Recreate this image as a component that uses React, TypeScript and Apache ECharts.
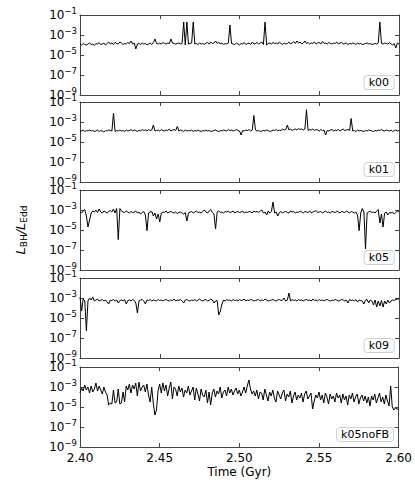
import React, { useEffect, useRef } from "react";
import * as echarts from "echarts";

// Time sampling (Gyr)
const T_START = 2.4;
const T_STEP = 0.001;

// Panel labels
const runNames = ["k00", "k01", "k05", "k09", "k05noFB"];

// log10(L_BH / L_Edd), one value per 0.001 Gyr
const k00 = [
  -3.9,-4.0,-3.85,-3.95,-4.0,-3.9,-3.8,-3.95,-3.9,-4.05,
  -3.85,-3.9,-3.75,-3.95,-3.9,-3.8,-4.0,-3.85,-3.7,-3.9,
  -3.8,-3.95,-3.75,-3.85,-3.9,-3.7,-3.8,-3.95,-3.85,-3.9,
  -3.75,-3.85,-3.6,-3.9,-3.8,-4.4,-3.9,-3.85,-3.95,-3.8,
  -3.9,-3.85,-4.0,-3.9,-3.8,-3.95,-3.75,-3.4,-3.85,-3.9,
  -3.8,-3.9,-3.75,-3.85,-3.9,-3.8,-3.85,-3.4,-3.8,-3.85,
  -3.9,-3.85,-3.8,-3.9,-3.85,-1.7,-4.0,-1.7,-3.9,-3.85,
  -3.8,-1.7,-3.9,-3.85,-3.95,-3.8,-3.9,-3.85,-3.95,-3.8,
  -3.75,-3.9,-3.7,-3.85,-3.8,-3.6,-3.85,-3.7,-3.9,-3.8,
  -3.95,-3.85,-3.9,-3.8,-2.0,-3.85,-3.9,-3.95,-3.8,-3.9,
  -4.0,-3.85,-3.9,-3.75,-3.95,-3.85,-3.8,-3.95,-3.7,-3.9,
  -3.85,-3.75,-3.9,-3.8,-3.7,-3.95,-1.7,-4.0,-3.85,-3.8,
  -3.9,-3.75,-3.85,-3.8,-3.9,-3.7,-3.85,-3.95,-3.8,-3.9,
  -3.85,-3.7,-3.9,-3.8,-3.65,-3.85,-3.6,-3.8,-3.7,-3.9,
  -3.8,-3.6,-3.85,-3.75,-3.9,-3.8,-3.85,-3.7,-3.9,-3.8,
  -3.75,-3.9,-3.65,-3.85,-3.8,-3.9,-3.75,-3.85,-3.9,-3.8,
  -3.85,-3.7,-3.9,-3.8,-3.75,-3.9,-3.85,-3.8,-3.95,-3.85,
  -3.9,-3.8,-3.85,-3.95,-3.8,-3.9,-3.85,-3.95,-3.9,-3.85,
  -3.8,-3.9,-3.85,-3.95,-3.9,-3.85,-3.9,-3.8,-1.7,-3.85,
  -3.9,-3.8,-3.85,-3.9,-3.75,-3.9,-4.0,-3.85,-4.3,-3.8,
  -3.9
];

const k01 = [
  -3.85,-3.9,-3.8,-3.95,-3.85,-3.9,-3.8,-3.9,-3.85,-3.95,
  -3.9,-3.8,-3.95,-3.85,-3.9,-4.0,-3.85,-3.9,-3.8,-3.85,
  -3.9,-2.1,-3.95,-3.85,-3.9,-3.8,-3.9,-3.85,-3.95,-3.8,
  -3.9,-3.85,-3.75,-3.9,-3.8,-3.85,-3.95,-3.8,-3.9,-3.75,
  -3.85,-3.8,-3.9,-3.75,-3.85,-3.8,-3.3,-3.9,-3.85,-3.8,
  -3.9,-3.75,-3.85,-3.9,-3.8,-3.85,-3.7,-3.9,-3.8,-3.75,
  -3.85,-3.45,-3.9,-3.8,-3.85,-3.95,-3.8,-3.9,-3.85,-3.9,
  -3.8,-3.95,-3.85,-3.9,-3.8,-3.9,-3.95,-3.85,-3.9,-3.8,
  -3.9,-3.85,-3.95,-3.9,-3.85,-3.8,-3.9,-3.95,-3.85,-3.9,
  -3.8,-3.85,-3.9,-3.75,-3.85,-3.8,-3.9,-3.85,-3.75,-3.85,
  -3.9,-4.3,-3.85,-3.9,-3.8,-3.85,-3.75,-3.9,-3.8,-2.35,
  -3.8,-3.9,-3.85,-3.95,-3.9,-3.85,-3.9,-3.8,-3.85,-3.95,
  -3.9,-3.8,-3.85,-3.75,-3.9,-3.8,-3.85,-3.7,-3.8,-3.75,
  -3.3,-3.8,-3.7,-3.85,-3.75,-3.7,-3.8,-3.65,-3.75,-3.7,
  -3.8,-3.7,-1.77,-3.85,-3.75,-3.8,-3.7,-3.85,-3.75,-3.8,
  -3.9,-3.75,-3.85,-3.8,-4.3,-3.85,-3.9,-3.8,-3.75,-3.9,
  -3.8,-3.85,-3.75,-3.9,-3.8,-3.7,-3.85,-3.8,-3.75,-3.85,
  -2.65,-3.9,-3.85,-3.95,-3.8,-3.9,-3.85,-3.9,-3.95,-3.85,
  -3.9,-3.8,-3.85,-3.9,-3.95,-3.85,-3.9,-3.8,-3.85,-3.75,
  -3.85,-3.9,-3.8,-3.85,-3.9,-3.8,-3.95,-3.85,-3.8,-3.9,
  -3.85
];

const k05 = [
  -3.2,-3.3,-3.1,-2.95,-3.6,-4.7,-4.0,-3.3,-3.1,-3.2,
  -3.0,-3.25,-2.9,-3.2,-3.3,-3.1,-3.2,-3.3,-3.15,-3.05,
  -3.2,-2.9,-3.3,-2.85,-5.96,-2.85,-3.1,-3.2,-3.25,-3.1,
  -3.2,-3.3,-3.15,-3.25,-3.2,-3.1,-3.3,-3.2,-3.4,-3.25,
  -3.15,-3.5,-5.07,-3.3,-3.2,-3.15,-3.6,-3.3,-3.9,-3.4,
  -4.2,-3.3,-3.2,-3.25,-3.1,-3.3,-3.2,-3.15,-3.25,-3.3,
  -3.2,-3.35,-3.25,-3.2,-3.3,-3.4,-3.25,-4.1,-3.3,-3.2,
  -3.15,-3.3,-3.2,-3.1,-3.25,-3.2,-3.3,-3.15,-3.0,-3.2,
  -3.3,-3.1,-2.95,-3.25,-3.4,-4.9,-3.2,-3.1,-3.25,-3.2,
  -3.3,-3.15,-3.2,-3.1,-3.25,-3.2,-3.1,-3.3,-3.2,-3.15,
  -3.25,-3.2,-3.1,-3.3,-3.2,-3.25,-3.15,-3.2,-3.3,-3.1,
  -3.2,-3.15,-3.25,-3.1,-3.0,-3.3,-3.2,-3.5,-3.1,-3.3,
  -3.15,-2.2,-3.3,-3.2,-3.6,-3.25,-3.15,-3.3,-3.2,-3.15,
  -3.25,-3.3,-3.1,-3.2,-3.15,-3.3,-3.2,-3.25,-3.1,-3.2,
  -3.3,-3.15,-3.2,-3.25,-3.1,-3.3,-3.2,-3.15,-3.05,-3.25,
  -3.2,-3.15,-3.3,-3.2,-3.1,-3.25,-3.2,-3.3,-3.15,-3.2,
  -3.25,-3.1,-3.2,-3.3,-3.15,-3.2,-3.25,-3.1,-3.2,-3.3,
  -3.15,-3.2,-3.3,-3.2,-3.5,-5.07,-3.3,-2.85,-3.2,-6.9,
  -3.3,-3.2,-3.1,-3.25,-3.2,-3.3,-3.1,-2.95,-4.3,-3.4,
  -4.7,-3.3,-3.2,-3.5,-3.25,-3.3,-3.2,-3.4,-3.25,-3.1,
  -3.2
];

const k09 = [
  -2.9,-4.3,-3.1,-3.3,-6.27,-3.3,-3.0,-3.2,-2.9,-3.3,
  -3.2,-3.1,-3.3,-3.25,-3.15,-3.3,-3.2,-3.4,-3.6,-3.2,
  -3.25,-3.15,-3.3,-3.2,-3.5,-3.25,-3.2,-3.3,-3.15,-3.6,
  -3.25,-3.2,-3.3,-3.15,-3.25,-3.5,-4.5,-3.3,-3.2,-3.15,
  -3.3,-3.6,-3.2,-3.25,-3.15,-3.3,-3.2,-3.25,-3.3,-3.15,
  -3.25,-3.2,-3.3,-3.2,-3.15,-3.25,-3.3,-3.2,-3.25,-3.1,
  -3.3,-3.2,-3.25,-3.15,-3.3,-3.5,-3.2,-3.15,-3.25,-3.3,
  -3.2,-3.25,-3.15,-3.3,-3.2,-3.1,-3.25,-3.3,-3.2,-3.15,
  -3.3,-3.25,-3.1,-3.2,-3.5,-3.3,-3.25,-4.7,-4.3,-3.6,
  -3.2,-3.3,-3.15,-3.25,-3.2,-3.3,-3.15,-3.25,-3.2,-3.3,
  -3.15,-3.25,-3.2,-3.1,-3.3,-3.2,-3.25,-3.15,-3.2,-3.3,
  -3.25,-3.2,-3.15,-3.3,-3.2,-3.25,-3.1,-3.2,-3.3,-3.25,
  -3.2,-3.15,-3.25,-3.3,-3.2,-3.15,-3.25,-3.2,-3.0,-3.3,
  -3.2,-2.5,-3.3,-3.15,-3.25,-3.2,-3.3,-3.15,-3.25,-3.2,
  -3.3,-3.2,-3.15,-3.25,-3.2,-3.3,-3.1,-3.25,-3.2,-3.3,
  -3.15,-3.25,-3.2,-3.3,-3.2,-3.15,-3.25,-3.3,-3.2,-3.25,
  -3.15,-3.2,-3.3,-3.25,-3.15,-3.2,-3.3,-3.2,-3.5,-3.15,
  -3.25,-3.2,-3.3,-3.15,-3.4,-3.2,-3.25,-3.3,-3.6,-3.2,
  -3.15,-3.5,-3.2,-3.3,-3.7,-3.2,-3.9,-3.3,-3.8,-3.25,
  -3.9,-3.3,-3.6,-3.2,-3.5,-3.3,-3.2,-3.25,-3.15,-3.1,
  -3.1
];

const k05noFB = [
  -3.6,-3.1,-3.4,-2.8,-3.3,-3.0,-3.6,-2.9,-3.5,-3.2,
  -2.6,-3.4,-2.9,-3.3,-3.7,-3.0,-3.5,-3.8,-4.8,-4.6,
  -4.7,-3.3,-4.6,-4.5,-3.2,-4.7,-4.6,-3.5,-4.5,-2.9,
  -3.3,-2.7,-3.6,-2.8,-3.2,-2.6,-3.9,-2.5,-3.4,-3.0,
  -2.8,-3.5,-2.7,-3.8,-4.5,-3.0,-4.6,-5.8,-5.3,-3.4,
  -2.7,-3.6,-2.6,-3.4,-2.8,-3.9,-3.1,-2.5,-4.2,-3.0,
  -3.2,-3.9,-2.9,-3.5,-3.1,-4.0,-3.3,-3.6,-2.9,-3.8,
  -3.4,-3.0,-4.3,-3.1,-3.7,-4.4,-3.2,-3.8,-4.0,-3.3,
  -4.6,-3.5,-4.8,-3.6,-3.2,-4.0,-3.4,-3.7,-3.0,-4.1,
  -3.5,-3.3,-3.9,-3.0,-3.6,-3.2,-3.8,-3.4,-3.1,-3.7,
  -3.3,-3.9,-3.5,-3.0,-3.6,-2.9,-2.3,-3.2,-3.7,-3.4,
  -3.9,-3.3,-4.2,-3.5,-3.6,-4.3,-3.2,-3.8,-4.4,-3.5,
  -3.9,-3.3,-4.1,-4.5,-3.4,-3.8,-4.2,-3.6,-3.3,-4.4,
  -3.7,-4.0,-3.4,-4.6,-3.9,-3.5,-4.3,-3.8,-4.1,-3.6,
  -4.5,-3.7,-3.4,-4.2,-3.9,-3.6,-5.2,-4.4,-3.8,-4.1,
  -3.5,-4.3,-3.8,-4.6,-3.6,-4.0,-4.7,-3.7,-4.2,-3.9,
  -4.5,-3.6,-4.1,-3.8,-4.6,-3.7,-4.3,-3.9,-4.8,-3.8,
  -4.2,-3.6,-4.5,-4.0,-3.7,-4.7,-4.1,-3.8,-4.4,-3.9,
  -4.6,-4.0,-4.9,-3.9,-4.3,-3.7,-4.6,-4.1,-3.6,-4.5,
  -4.0,-4.7,-3.8,-4.4,-4.9,-2.9,-5.0,-5.3,-5.1,-5.2,
  -5.2
];

const allRuns = [k00, k01, k05, k09, k05noFB];

// Axis tick definitions
const X_MIN = 2.4;
const X_MAX = 2.6;
const X_INTERVAL = 0.05;
const Y_MIN = 1e-9;
const Y_MAX = 1e-1;
const yTickValues = [1e-9, 1e-7, 1e-5, 1e-3, 1e-1];

const FONT = "DejaVu Sans";
const FRAME = "#444";
const GRID_LEFT = 80;
const GRID_WIDTH = 319;
const GRID_TOPS = [15, 102, 190, 278, 367];
const GRID_HEIGHT = 80;

const yLabel = (v: number) => {
  const e = Math.round(Math.log10(v));
  return `{b|10}{s|${e < 0 ? "\u2212" : ""}${Math.abs(e)}}`;
};

export default function App() {
  const ref = useRef<HTMLDivElement>(null);
  useEffect(() => {
    if (!ref.current) return;
    const chart = echarts.init(ref.current, null, { renderer: "svg" });
    const grids: any[] = [];
    const xAxes: any[] = [];
    const yAxes: any[] = [];
    const series: any[] = [];
    const titles: any[] = [];
    const axisLine = { show: true, onZero: false, lineStyle: { color: FRAME, width: 1 } };
    const tick = { show: true, inside: true, length: 4, lineStyle: { color: FRAME, width: 1 } };
    const yTick = { ...tick, customValues: yTickValues };

    allRuns.forEach((run, i) => {
      grids.push({ left: GRID_LEFT, width: GRID_WIDTH, top: GRID_TOPS[i], height: GRID_HEIGHT });
      const last = i === allRuns.length - 1;
      xAxes.push({
        gridIndex: i, type: "value", min: X_MIN, max: X_MAX, interval: X_INTERVAL, position: "bottom",
        axisLine, axisTick: tick, splitLine: { show: false },
        axisLabel: { show: last, color: "#000", fontFamily: FONT, fontSize: 12, margin: 5, formatter: (v: number) => v.toFixed(2) },
        name: last ? "Time (Gyr)" : "", nameLocation: "middle", nameGap: 19,
        nameTextStyle: { color: "#000", fontFamily: FONT, fontSize: 12 },
      });
      xAxes.push({
        gridIndex: i, type: "value", min: X_MIN, max: X_MAX, interval: X_INTERVAL, position: "top",
        axisLine, axisTick: tick, splitLine: { show: false }, axisLabel: { show: false },
      });
      yAxes.push({
        gridIndex: i, type: "log", logBase: 10, min: Y_MIN, max: Y_MAX, position: "left",
        axisLine, axisTick: yTick, splitLine: { show: false }, minorTick: { show: false },
        axisLabel: {
          show: true, margin: 3, formatter: yLabel, customValues: yTickValues,
          rich: {
            b: { fontFamily: FONT, fontSize: 12, color: "#000" },
            s: { fontFamily: FONT, fontSize: 8.5, color: "#000", padding: [0, 0, 8, 0] },
          },
        },
        name: i === 2 ? "{i|L}{sub|BH}{i|/L}{sub|Edd}" : "",
        nameLocation: "middle", nameRotate: 90, nameGap: 52,
        nameTextStyle: {
          rich: {
            i: { fontFamily: FONT, fontSize: 13, fontStyle: "italic", color: "#000" },
            sub: { fontFamily: FONT, fontSize: 9, color: "#000", padding: [7, 0, 0, 0] },
          },
        },
      });
      yAxes.push({
        gridIndex: i, type: "log", logBase: 10, min: Y_MIN, max: Y_MAX, position: "right",
        axisLine, axisTick: yTick, splitLine: { show: false }, minorTick: { show: false },
        axisLabel: { show: false },
      });
      series.push({
        type: "line", xAxisIndex: 2 * i, yAxisIndex: 2 * i, showSymbol: false, symbol: "none",
        lineStyle: { color: "#000", width: 1 }, silent: true,
        data: run.map((e, j) => [T_START + j * T_STEP, Math.pow(10, e)]),
      });
      titles.push({
        text: runNames[i], right: 21, bottom: 495 - (GRID_TOPS[i] + GRID_HEIGHT) + 5,
        padding: [2, 5, 2, 5], borderColor: "#d0d0d0", borderWidth: 1, borderRadius: 3, backgroundColor: "#fff",
        textStyle: { fontFamily: FONT, fontSize: 11, fontWeight: "normal", color: "#000" },
      });
    });

    chart.setOption({
      animation: false,
      backgroundColor: "#fff",
      title: titles,
      grid: grids,
      xAxis: xAxes,
      yAxis: yAxes,
      series,
    });
    return () => chart.dispose();
  }, []);
  return <div ref={ref} style={{ width: 415, height: 495, position: "absolute", left: 0, top: 0 }} />;
}
